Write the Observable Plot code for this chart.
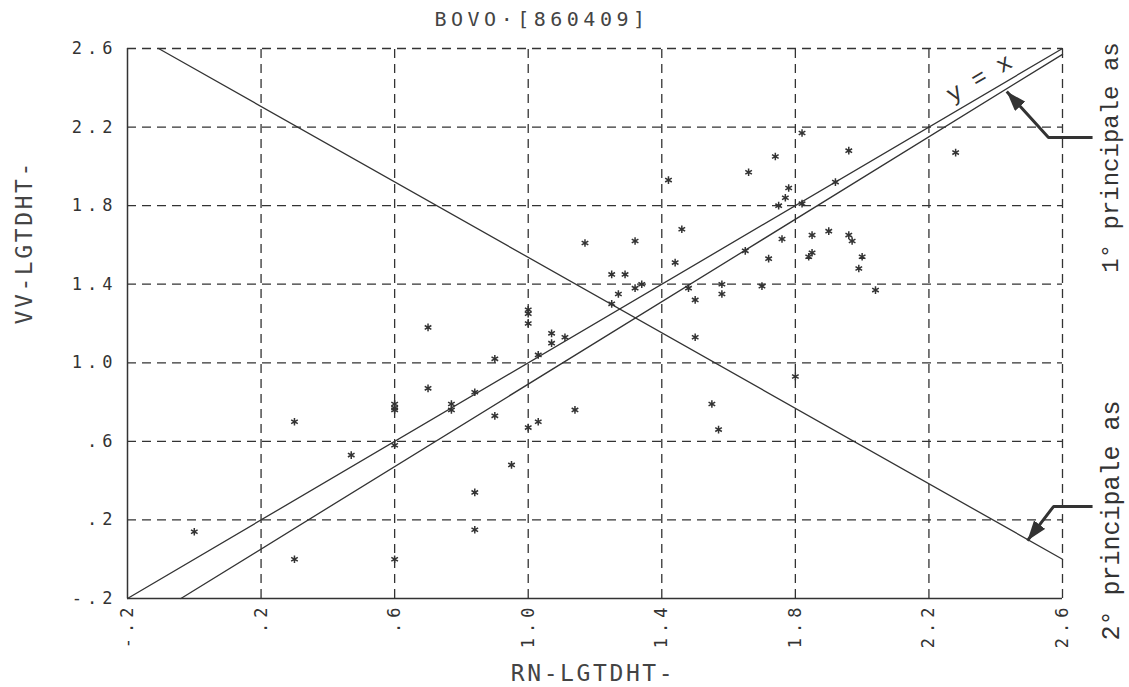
<!DOCTYPE html>
<html>
<head>
<meta charset="utf-8">
<script src="https://cdn.jsdelivr.net/npm/d3@7"></script>
<script src="https://cdn.jsdelivr.net/npm/@observablehq/plot@0.6"></script>
<style>
  html, body { margin: 0; padding: 0; background: #fff; }
  #chart { width: 1129px; height: 687px; }
</style>
</head>
<body>
<div id="chart"></div>
<script>
// ---- data ----
const rnValues = [
  1.82, 1.96, 1.74, 1.66, 2.28, 1.92, 1.78, 1.77, 1.75, 1.82,
  1.85, 1.90, 1.96, 1.97, 1.76, 1.65, 1.72, 1.85, 1.84, 2.00,
  1.99, 1.70, 2.04, 1.80, 1.17, 1.32, 1.46, 1.42, 1.44, 1.25,
  1.29, 1.27, 1.32, 1.34, 1.48, 1.58, 1.58, 1.50, 1.25, 1.00,
  1.00, 1.00, 0.70, 1.07, 1.11, 1.07, 1.03, 0.90, 1.50, 0.70,
  0.84, 0.77, 0.77, 0.60, 0.60, 0.60, 0.90, 1.14, 1.55, 1.57,
  1.03, 1.00, 0.60, 0.95, 0.30, 0.47, 0.00, 0.30, 0.60, 0.84,
  0.84
];
const vvValues = [
  2.17, 2.08, 2.05, 1.97, 2.07, 1.92, 1.89, 1.84, 1.80, 1.81,
  1.65, 1.67, 1.65, 1.62, 1.63, 1.57, 1.53, 1.56, 1.54, 1.54,
  1.48, 1.39, 1.37, 0.93, 1.61, 1.62, 1.68, 1.93, 1.51, 1.45,
  1.45, 1.35, 1.38, 1.40, 1.38, 1.40, 1.35, 1.32, 1.30, 1.27,
  1.25, 1.20, 1.18, 1.15, 1.13, 1.10, 1.04, 1.02, 1.13, 0.87,
  0.85, 0.79, 0.76, 0.79, 0.77, 0.76, 0.73, 0.76, 0.79, 0.66,
  0.70, 0.67, 0.58, 0.48, 0.70, 0.53, 0.14, 0.00, 0.00, 0.34,
  0.15
];
const xTicks = [-0.2, 0.2, 0.6, 1.0, 1.4, 1.8, 2.2, 2.6];
const xTickLabels = ["-.2", ".2", ".6", "1.0", "1.4", "1.8", "2.2", "2.6"];
const yTicks = [-0.2, 0.2, 0.6, 1.0, 1.4, 1.8, 2.2, 2.6];
const yTickLabels = ["-.2", ".2", ".6", "1.0", "1.4", "1.8", "2.2", "2.6"];

const titleText = "BOVO·[860409]";
const xLabelText = "RN-LGTDHT-";
const yLabelText = "VV-LGTDHT-";
const firstAxisLabel = "1° principale as";
const secondAxisLabel = "2° principale as";
const identityLabelText = "y = x";

// reference lines (end points in data units)
const identityLine = [{x: -0.2, y: -0.2}, {x: 2.6, y: 2.6}];
const firstPrincipalAxis = [{x: -0.04, y: -0.2}, {x: 2.6, y: 2.57}];
const secondPrincipalAxis = [{x: -0.107, y: 2.6}, {x: 2.6, y: 0.0}];
// annotation arrows (data units): tail, bend, tip
const firstAxisArrow = [{x: 2.69, y: 2.147}, {x: 2.558, y: 2.147}, {x: 2.433, y: 2.381}];
const secondAxisArrow = [{x: 2.69, y: 0.268}, {x: 2.573, y: 0.268}, {x: 2.495, y: 0.095}];
const identityLabelPos = [{x: 2.35, y: 2.45}];

// ---- build ----
const points = rnValues.map((x, i) => ({x, y: vvValues[i]}));
const ink = "#333";
const mono = "DejaVu Sans Mono";
const courier = "Liberation Mono";

function solidArrow(color) {
  const ns = "http://www.w3.org/2000/svg";
  const m = document.createElementNS(ns, "marker");
  m.setAttribute("viewBox", "-20 -7 20 14");
  m.setAttribute("markerWidth", "20");
  m.setAttribute("markerHeight", "14");
  m.setAttribute("markerUnits", "userSpaceOnUse");
  m.setAttribute("orient", "auto");
  m.setAttribute("refX", "0");
  m.setAttribute("refY", "0");
  const p = document.createElementNS(ns, "path");
  p.setAttribute("d", "M-20,-7L0,0L-20,7Z");
  p.setAttribute("fill", color);
  p.setAttribute("stroke", "none");
  m.appendChild(p);
  return m;
}

const gridX = xTicks.filter(d => d > -0.2);
const gridY = yTicks.filter(d => d > -0.2);

const chart = Plot.plot({
  width: 1129,
  height: 687,
  marginTop: 48,
  marginBottom: 89,
  marginLeft: 127,
  marginRight: 67,
  x: {domain: [-0.2, 2.6], axis: null},
  y: {domain: [-0.2, 2.6], axis: null},
  style: {background: "#fff", color: ink, overflow: "visible"},
  marks: [
    // dashed grid
    Plot.ruleX(gridX, {x: d => d, y1: -0.2, y2: 2.6, stroke: ink, strokeWidth: 1.3, strokeDasharray: "9,6"}),
    Plot.ruleY(gridY, {y: d => d, x1: -0.2, x2: 2.6, stroke: ink, strokeWidth: 1.3, strokeDasharray: "9,6"}),
    // solid axes
    Plot.ruleX([-0.2], {x: d => d, y1: -0.2, y2: 2.6, stroke: ink, strokeWidth: 1.5}),
    Plot.ruleY([-0.2], {y: d => d, x1: -0.2, x2: 2.6, stroke: ink, strokeWidth: 1.5}),
    // reference lines
    Plot.line(identityLine, {x: "x", y: "y", stroke: ink, strokeWidth: 1.3}),
    Plot.line(firstPrincipalAxis, {x: "x", y: "y", stroke: ink, strokeWidth: 1.3}),
    Plot.line(secondPrincipalAxis, {x: "x", y: "y", stroke: ink, strokeWidth: 1.3}),
    // points
    Plot.dot(points, {x: "x", y: "y", symbol: "asterisk", r: 3.6, stroke: ink, strokeWidth: 1.5}),
    // annotation arrows
    Plot.line(firstAxisArrow, {x: "x", y: "y", stroke: ink, strokeWidth: 3, strokeLinecap: "butt", strokeLinejoin: "miter", markerEnd: solidArrow}),
    Plot.line(secondAxisArrow, {x: "x", y: "y", stroke: ink, strokeWidth: 3, strokeLinecap: "butt", strokeLinejoin: "miter", markerEnd: solidArrow}),
    // y = x label
    Plot.text(identityLabelPos, {x: "x", y: "y", text: () => identityLabelText, rotate: -30.5,
      fontFamily: courier, fontSize: 24, fill: ink, textAnchor: "middle", lineAnchor: "middle"}),
    // tick labels
    Plot.text(xTicks, {x: d => d, frameAnchor: "bottom", text: (d, i) => xTickLabels[i], rotate: -90,
      textAnchor: "end", lineAnchor: "middle", dy: 4, fontFamily: mono, fontSize: 17, fill: ink}),
    Plot.text(yTicks, {y: d => d, frameAnchor: "left", text: (d, i) => yTickLabels[i],
      textAnchor: "end", lineAnchor: "middle", dx: -10, fontFamily: mono, fontSize: 17, fill: ink}),
    // axis titles
    Plot.text([xLabelText], {frameAnchor: "bottom", text: d => d, dx: -2, dy: 75, lineAnchor: "middle",
      fontFamily: mono, fontSize: 23, fill: "#444"}),
    Plot.text([yLabelText], {frameAnchor: "left", text: d => d, dx: -103, dy: 1, rotate: -90, lineAnchor: "middle",
      fontFamily: mono, fontSize: 23, fill: "#444"}),
    // title
    Plot.text([titleText], {frameAnchor: "top", text: d => d, dx: -53, dy: -28.5, lineAnchor: "middle",
      fontFamily: mono, fontSize: 20, fill: "#444"}),
    // side annotations
    Plot.text([firstAxisLabel], {frameAnchor: "top-right", text: d => d, dx: 48, dy: 109, rotate: -90,
      textAnchor: "middle", lineAnchor: "middle", fontFamily: courier, fontSize: 24, fill: ink}),
    Plot.text([secondAxisLabel], {frameAnchor: "bottom-right", text: d => d, dx: 48, dy: -78, rotate: -90,
      textAnchor: "middle", lineAnchor: "middle", fontFamily: courier, fontSize: 25, fill: ink})
  ]
});

// letter spacing of the plotter lettering (not a Plot text option)
const spacingBySize = {"17": 5, "23": 2.6, "20": 4.5};
d3.select(chart).selectAll("text").each(function () {
  const g = this.closest("[font-size]");
  const fs = this.getAttribute("font-size") || (g && g.getAttribute("font-size"));
  if (fs != null && spacingBySize[String(parseFloat(fs))] != null) {
    this.setAttribute("letter-spacing", spacingBySize[String(parseFloat(fs))]);
  }
});
document.getElementById("chart").appendChild(chart);
</script>
</body>
</html>
